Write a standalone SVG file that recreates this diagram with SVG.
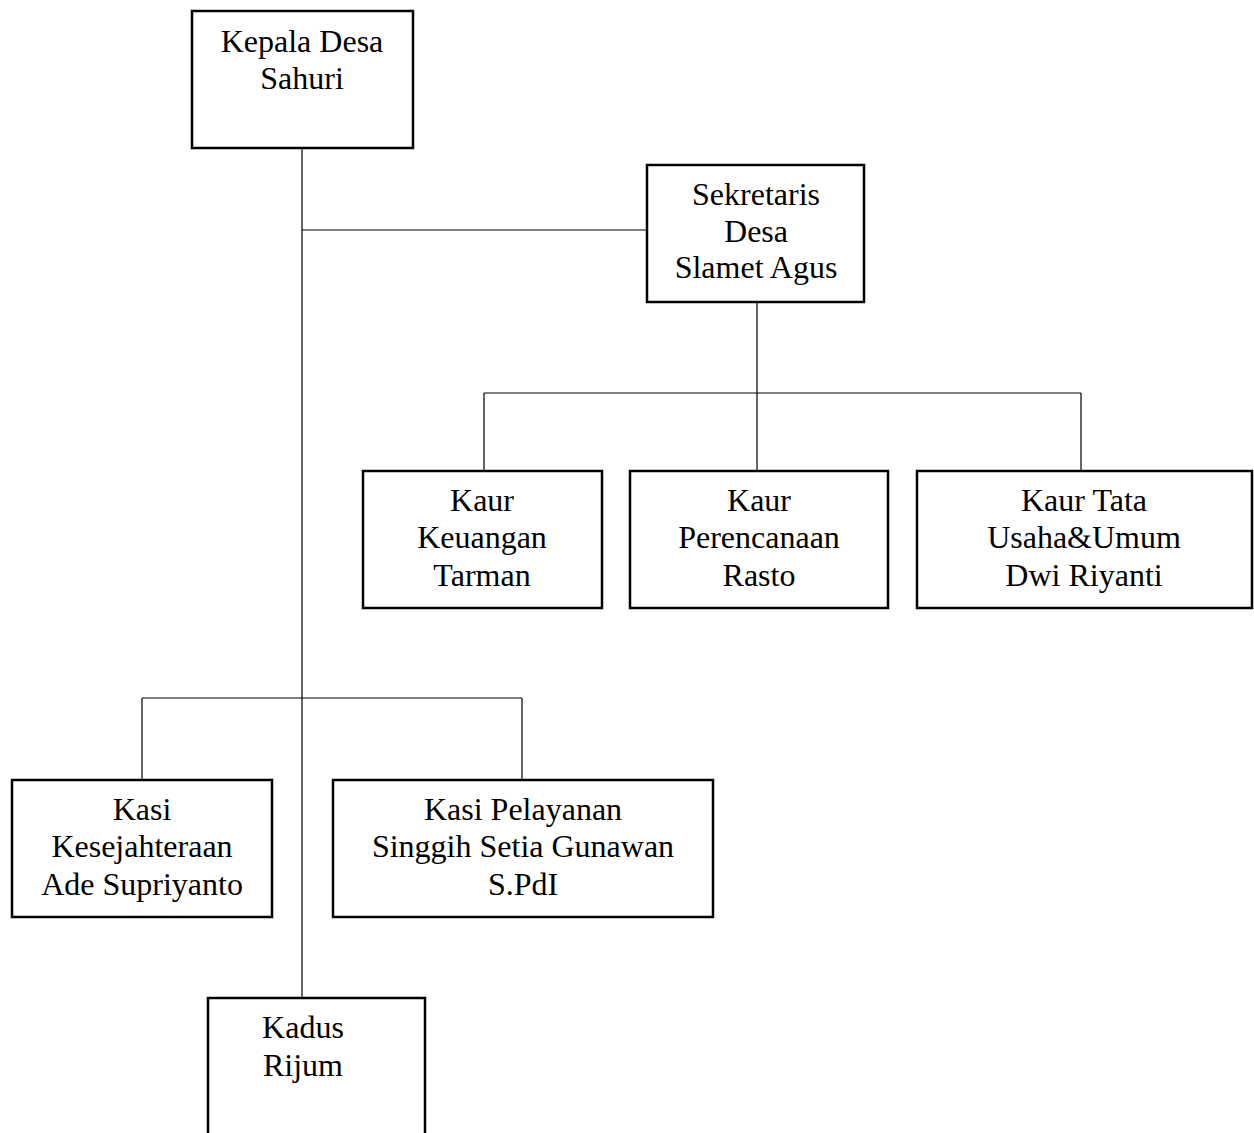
<svg xmlns="http://www.w3.org/2000/svg" width="1254" height="1133" viewBox="0 0 1254 1133">
<style>
.box{fill:#fff;stroke:#000;stroke-width:2.5}
.c{fill:none;stroke:#000;stroke-width:1.2}
text{font-family:"Liberation Serif","Times New Roman",serif;font-size:32px;fill:#000;text-anchor:middle}
</style>
<rect width="1254" height="1133" fill="#fff"/>
<g id="connectors">
<line class="c" x1="302" y1="148" x2="302" y2="998"/>
<line class="c" x1="302" y1="230" x2="647" y2="230"/>
<line class="c" x1="757" y1="302" x2="757" y2="471"/>
<line class="c" x1="484" y1="393" x2="1081" y2="393"/>
<line class="c" x1="484" y1="393" x2="484" y2="471"/>
<line class="c" x1="1081" y1="393" x2="1081" y2="471"/>
<line class="c" x1="142" y1="698" x2="522" y2="698"/>
<line class="c" x1="142" y1="698" x2="142" y2="780"/>
<line class="c" x1="522" y1="698" x2="522" y2="780"/>
</g>
<g id="kepala-desa">
<rect class="box" x="192" y="11" width="221" height="137"/>
<text x="302" y="52">Kepala Desa</text>
<text x="302" y="89">Sahuri</text>
</g>
<g id="sekretaris">
<rect class="box" x="647" y="165" width="217" height="137"/>
<text x="756" y="205">Sekretaris</text>
<text x="756" y="242">Desa</text>
<text x="756" y="278">Slamet Agus</text>
</g>
<g id="kaur-keuangan">
<rect class="box" x="363" y="471" width="239" height="137"/>
<text x="482" y="511">Kaur</text>
<text x="482" y="548">Keuangan</text>
<text x="482" y="586">Tarman</text>
</g>
<g id="kaur-perencanaan">
<rect class="box" x="630" y="471" width="258" height="137"/>
<text x="759" y="511">Kaur</text>
<text x="759" y="548">Perencanaan</text>
<text x="759" y="586">Rasto</text>
</g>
<g id="kaur-tata-usaha">
<rect class="box" x="917" y="471" width="335" height="137"/>
<text x="1084" y="511">Kaur Tata</text>
<text x="1084" y="548">Usaha&amp;Umum</text>
<text x="1084" y="586">Dwi Riyanti</text>
</g>
<g id="kasi-kesejahteraan">
<rect class="box" x="12" y="780" width="260" height="137"/>
<text x="142" y="820">Kasi</text>
<text x="142" y="857">Kesejahteraan</text>
<text x="142" y="895">Ade Supriyanto</text>
</g>
<g id="kasi-pelayanan">
<rect class="box" x="333" y="780" width="380" height="137"/>
<text x="523" y="820">Kasi Pelayanan</text>
<text x="523" y="857">Singgih Setia Gunawan</text>
<text x="523" y="895">S.PdI</text>
</g>
<g id="kadus">
<rect class="box" x="208" y="998" width="217" height="145"/>
<text x="303" y="1038">Kadus</text>
<text x="303" y="1076">Rijum</text>
</g>
</svg>
